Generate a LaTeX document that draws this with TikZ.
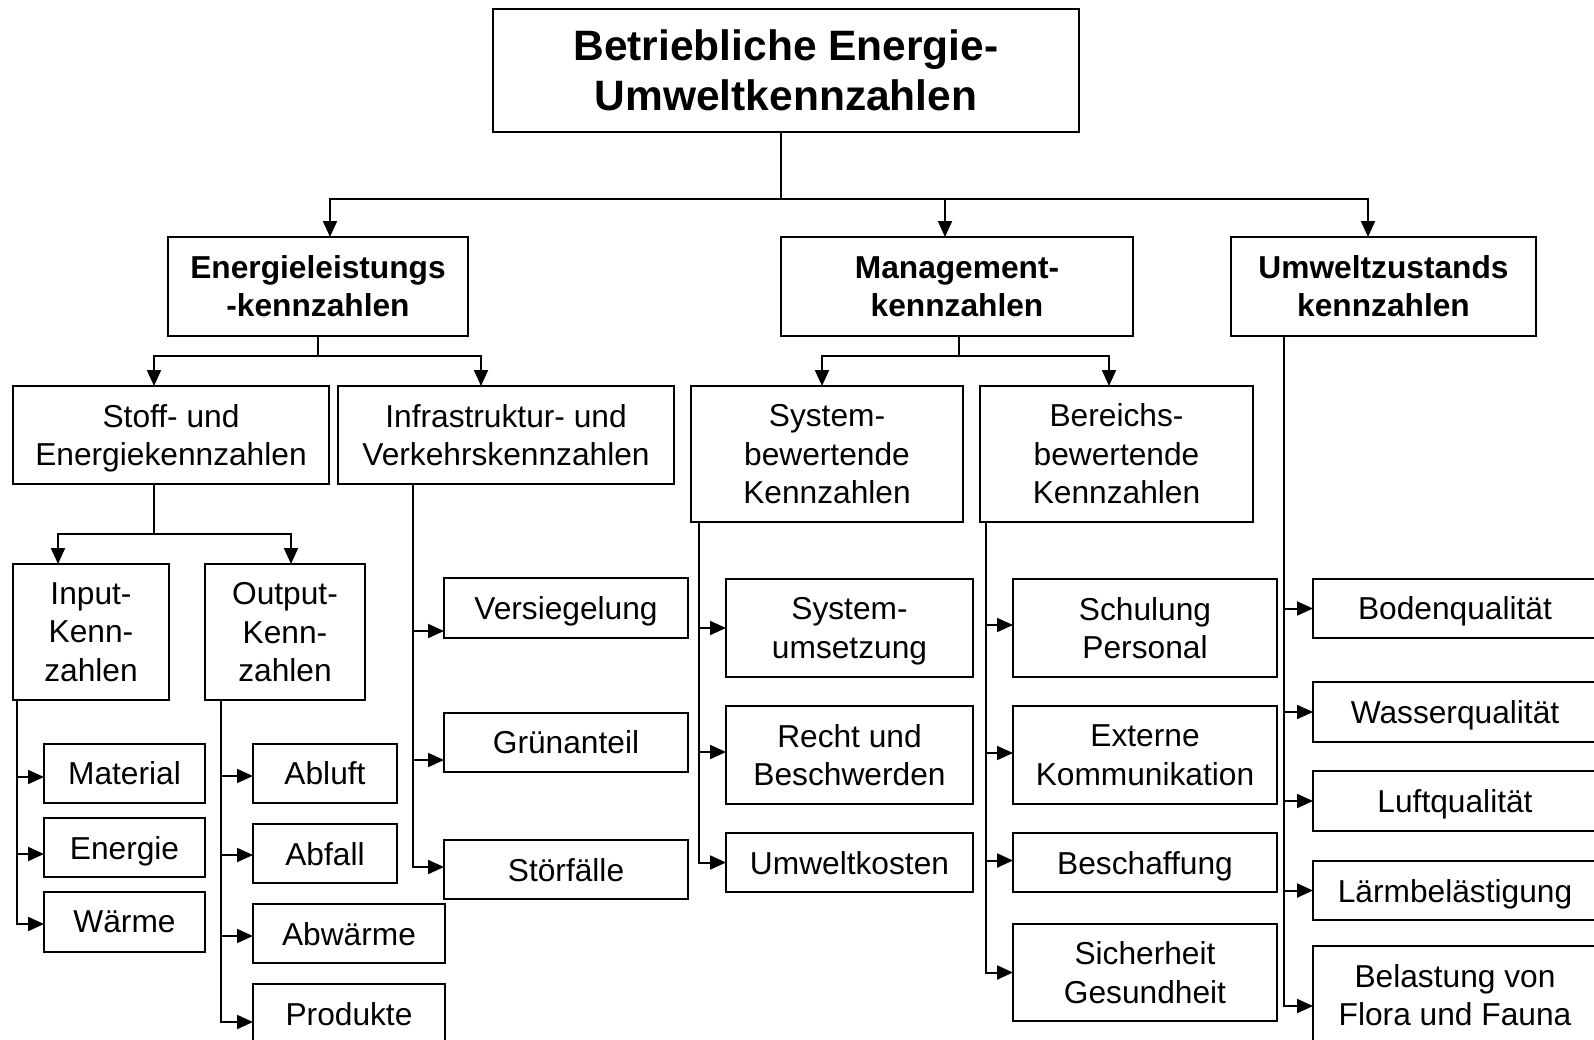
\documentclass[tikz,border=0pt]{standalone}
\usepackage{fontspec}
\setmainfont{Liberation Sans}[Ligatures=CommonOff]
\usetikzlibrary{arrows.meta}
\begin{document}
\begin{tikzpicture}[x=1pt,y=-1pt,
  bx/.style={draw, line width=2pt, inner sep=0pt, outer sep=0pt, align=center, text depth=0pt,
    font=\fontsize{31.7pt}{38.5pt}\selectfont},
  hd/.style={bx, font=\fontsize{31.7pt}{38pt}\selectfont\bfseries},
  ln/.style={line width=2pt},
  arr/.style={ln, -{Triangle[length=16pt,width=14pt]}},
]
\useasboundingbox (0,0) rectangle (1594,1039);
\clip (0,0) rectangle (1594,1039);

% top
\node[bx, font=\fontsize{42.5pt}{50pt}\selectfont\bfseries, minimum width=586pt, minimum height=123pt] (top) at (786,70) {Betriebliche Energie-\\Umweltkennzahlen};

% level 1
\node[hd, minimum width=300pt, minimum height=99pt] (e1) at (318,286.5) {Energieleistungs\\-kennzahlen};
\node[hd, minimum width=352pt, minimum height=99pt] (e2) at (957,286.5) {Management-\\kennzahlen};
\node[hd, minimum width=305pt, minimum height=99pt] (e3) at (1383.5,286.5) {Umweltzustands\\kennzahlen};

% level 2
\node[bx, minimum width=316pt, minimum height=98pt] (s1) at (171,435) {Stoff- und\\Energiekennzahlen};
\node[bx, minimum width=336pt, minimum height=98pt] (s2) at (506,435) {Infrastruktur- und\\Verkehrskennzahlen};
\node[bx, minimum width=272pt, minimum height=136pt] (m1) at (827,454) {System-\\bewertende\\Kennzahlen};
\node[bx, minimum width=273pt, minimum height=136pt] (m2) at (1116.5,454) {Bereichs-\\bewertende\\Kennzahlen};

% level 3
\node[bx, minimum width=156pt, minimum height=136pt] (in) at (91,632) {Input-\\Kenn-\\zahlen};
\node[bx, minimum width=160pt, minimum height=136pt] (out) at (285,632) {Output-\\Kenn-\\zahlen};

% leaves: input
\node[bx, minimum width=161pt, minimum height=59pt] (mat) at (124.5,773.5) {Material};
\node[bx, minimum width=161pt, minimum height=59pt] (ene) at (124.5,847.5) {Energie};
\node[bx, minimum width=161pt, minimum height=60pt] (waer) at (124.5,922) {Wärme};

% leaves: output
\node[bx, minimum width=144pt, minimum height=59pt] (abl) at (325,773.5) {Abluft};
\node[bx, minimum width=144pt, minimum height=59pt] (abf) at (325,853.5) {Abfall};
\node[bx, minimum width=192pt, minimum height=59pt] (abw) at (349,933.5) {Abwärme};
\node[bx, minimum width=192pt, minimum height=60pt] (prod) at (349,1014) {Produkte};

% leaves: infrastructure
\node[bx, minimum width=244pt, minimum height=60pt] (vers) at (566,608) {Versiegelung};
\node[bx, minimum width=244pt, minimum height=59pt] (gruen) at (566,742.5) {Grünanteil};
\node[bx, minimum width=244pt, minimum height=59pt] (stoer) at (566,869.5) {Störfälle};

% leaves: system
\node[bx, minimum width=247pt, minimum height=98pt] (sysu) at (849.5,628) {System-\\umsetzung};
\node[bx, minimum width=247pt, minimum height=98pt] (recht) at (849.5,755) {Recht und\\Beschwerden};
\node[bx, minimum width=247pt, minimum height=59pt] (ukost) at (849.5,862.5) {Umweltkosten};

% leaves: bereich
\node[bx, minimum width=264pt, minimum height=98pt] (schul) at (1145,628) {Schulung\\Personal};
\node[bx, minimum width=264pt, minimum height=98pt] (ext) at (1145,755) {Externe\\Kommunikation};
\node[bx, minimum width=264pt, minimum height=59pt] (besch) at (1145,862.5) {Beschaffung};
\node[bx, minimum width=264pt, minimum height=97pt] (sich) at (1145,972.5) {Sicherheit\\Gesundheit};

% leaves: umwelt
\node[bx, minimum width=284pt, minimum height=59pt] (boden) at (1455,608.5) {Bodenqualität};
\node[bx, minimum width=284pt, minimum height=60pt] (wasser) at (1455,712) {Wasserqualität};
\node[bx, minimum width=284pt, minimum height=60pt] (luft) at (1455,801) {Luftqualität};
\node[bx, minimum width=284pt, minimum height=59pt] (laerm) at (1455,890.5) {Lärmbelästigung};
\node[bx, minimum width=284pt, minimum height=98pt] (belast) at (1455,995) {Belastung von\\Flora und Fauna};

% connectors: top
\coordinate (bus) at (781,199);
\draw[ln] ([xshift=-5pt]top.south) -- (bus);
\draw[arr] (bus) -| ([xshift=12pt]e1.north);
\draw[arr] (bus) -| ([xshift=-12pt]e2.north);
\draw[arr] (bus) -| ([xshift=-15.5pt]e3.north);

\coordinate (eb) at (318,356);
\draw[ln] (e1.south) -- (eb);
\draw[arr] (eb) -| ([xshift=-17pt]s1.north);
\draw[arr] (eb) -| ([xshift=-25pt]s2.north);

\coordinate (mb) at (959,356);
\draw[ln] ([xshift=2pt]e2.south) -- (mb);
\draw[arr] (mb) -| ([xshift=-5pt]m1.north);
\draw[arr] (mb) -| ([xshift=-7.5pt]m2.north);

\coordinate (sb) at (154,534);
\draw[ln] ([xshift=-17pt]s1.south) -- (sb);
\draw[arr] (sb) -| ([xshift=-33pt]in.north);
\draw[arr] (sb) -| ([xshift=6pt]out.north);

% spines
\foreach \n/\d in {mat/-3.5, ene/-6.5, waer/-2}
  \draw[arr] ([xshift=4pt]in.south west) |- ([yshift=\d pt]\n.west);
\foreach \n/\d in {abl/-2.5, abf/-1.5, abw/-2.5, prod/-8}
  \draw[arr] ([xshift=16pt]out.south west) |- ([yshift=\d pt]\n.west);
\foreach \n/\d in {vers/-23, gruen/-17.5, stoer/2.5}
  \draw[arr] ([xshift=75pt]s2.south west) |- ([yshift=\d pt]\n.west);
\foreach \n/\d in {sysu/0, recht/3, ukost/0}
  \draw[arr] ([xshift=8pt]m1.south west) |- ([yshift=\d pt]\n.west);
\foreach \n/\d in {schul/3, ext/2, besch/2, sich/0}
  \draw[arr] ([xshift=6pt]m2.south west) |- ([yshift=\d pt]\n.west);
\foreach \n/\d in {boden/0, wasser/0, luft/0, laerm/0, belast/-11}
  \draw[arr] ([xshift=53pt]e3.south west) |- ([yshift=\d pt]\n.west);
\end{tikzpicture}
\end{document}
